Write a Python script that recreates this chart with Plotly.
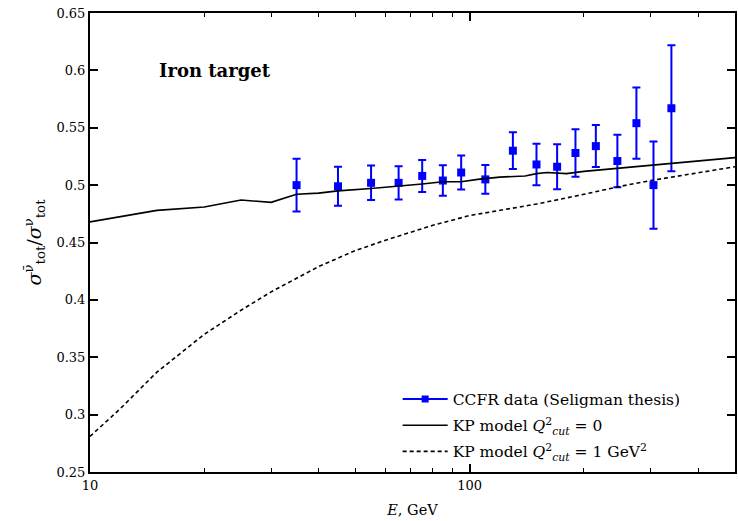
import plotly.graph_objects as go

# CCFR data (Seligman thesis)
E_data = [35, 45, 55, 65, 75, 85, 95, 110, 130, 150, 170, 190, 215, 245, 275, 305, 340]
R_data = [0.500, 0.499, 0.502, 0.502, 0.508, 0.504, 0.511, 0.505, 0.530, 0.518, 0.516,
          0.528, 0.534, 0.521, 0.554, 0.500, 0.567]
R_err = [0.023, 0.017, 0.015, 0.0145, 0.014, 0.0133, 0.0148, 0.0126, 0.016, 0.018, 0.0196,
         0.0206, 0.0183, 0.0229, 0.031, 0.038, 0.055]

# KP model Q2cut = 0
E_kp0 = [10, 15, 20, 25, 30, 35, 40, 45, 55, 65, 75, 85, 95, 105, 120, 140, 150, 160,
         180, 200, 250, 300, 350, 400, 500]
R_kp0 = [0.468, 0.478, 0.481, 0.487, 0.485, 0.492, 0.493, 0.495, 0.497, 0.499, 0.501,
         0.503, 0.503, 0.505, 0.507, 0.508, 0.510, 0.511, 0.510, 0.512, 0.515, 0.517,
         0.519, 0.521, 0.524]

# KP model Q2cut = 1 GeV^2
E_kp1 = [10, 12, 15, 20, 25, 30, 40, 50, 60, 70, 80, 100, 125, 150, 200, 250, 300, 400, 500]
R_kp1 = [0.281, 0.305, 0.337, 0.370, 0.391, 0.407, 0.429, 0.443, 0.452, 0.459, 0.465,
         0.4735, 0.479, 0.4835, 0.492, 0.499, 0.504, 0.511, 0.516]

y_ticks = [0.25, 0.3, 0.35, 0.4, 0.45, 0.5, 0.55, 0.6, 0.65]
x_ticks = [10, 100]
x_minor = [20, 30, 40, 50, 60, 70, 80, 90, 200, 300, 400]

FONT = "DejaVu Serif"
BLUE = "#0000ff"

fig = go.Figure()

fig.add_trace(go.Scatter(
    x=E_data, y=R_data, mode="markers",
    marker=dict(symbol="square", size=8, color=BLUE),
    error_y=dict(type="data", array=R_err, color=BLUE, thickness=2, width=4),
    showlegend=False,
))
# legend proxy for data
fig.add_trace(go.Scatter(
    x=[None], y=[None], mode="lines+markers",
    marker=dict(symbol="square", size=7, color=BLUE),
    line=dict(color=BLUE, width=2),
    name="CCFR data (Seligman thesis)", legendgroup="a",
))
fig.add_trace(go.Scatter(
    x=E_kp0, y=R_kp0, mode="lines",
    line=dict(color="black", width=1.6),
    name="KP model <i>Q</i><sup>2</sup><sub><i>cut</i></sub> = 0", legendgroup="b",
))
fig.add_trace(go.Scatter(
    x=E_kp1, y=R_kp1, mode="lines",
    line=dict(color="black", width=1.6, dash="4px,3px"),
    name="KP model <i>Q</i><sup>2</sup><sub><i>cut</i></sub> = 1 GeV<sup>2</sup>", legendgroup="c",
))

fig.add_annotation(
    text="<b>Iron target</b>", x=0.104, y=0.875, xref="paper", yref="paper",
    xanchor="left", yanchor="middle", showarrow=False,
    font=dict(family=FONT, size=18, color="black"),
)

fig.update_layout(
    width=738, height=521,
    margin=dict(l=90, r=1, t=13, b=49),
    plot_bgcolor="white", paper_bgcolor="white",
    font=dict(family=FONT, size=13, color="black"),
    legend=dict(
        x=0.477, y=0.195, xanchor="left", yanchor="top",
        bgcolor="rgba(0,0,0,0)", font=dict(family=FONT, size=15.5),
        tracegroupgap=3, itemwidth=45,
    ),
    showlegend=True,
)

fig.update_xaxes(
    type="log", range=[1, 2.699],
    tickvals=x_ticks, ticktext=["10", "100"],
    ticks="inside", ticklen=8, tickwidth=1.5, tickcolor="black",
    minor=dict(tickvals=x_minor, ticks="inside", ticklen=4, tickwidth=1.2, tickcolor="black"),
    showline=True, linecolor="black", linewidth=2, mirror="ticks",
    showgrid=False, zeroline=False,
    title=dict(text="<i>E</i>, GeV", font=dict(family=FONT, size=14.5), standoff=13),
)
fig.update_yaxes(
    range=[0.25, 0.65], tickvals=y_ticks,
    ticks="inside", ticklen=8, tickwidth=1.5, tickcolor="black",
    showline=True, linecolor="black", linewidth=2, mirror="ticks",
    showgrid=False, zeroline=False,
    title=dict(text="<i>σ</i><sup>ν̄</sup><sub>tot</sub>/<i>σ</i><sup>ν</sup><sub>tot</sub>",
               font=dict(family=FONT, size=19), standoff=10),
)

fig.write_html("out.html")
